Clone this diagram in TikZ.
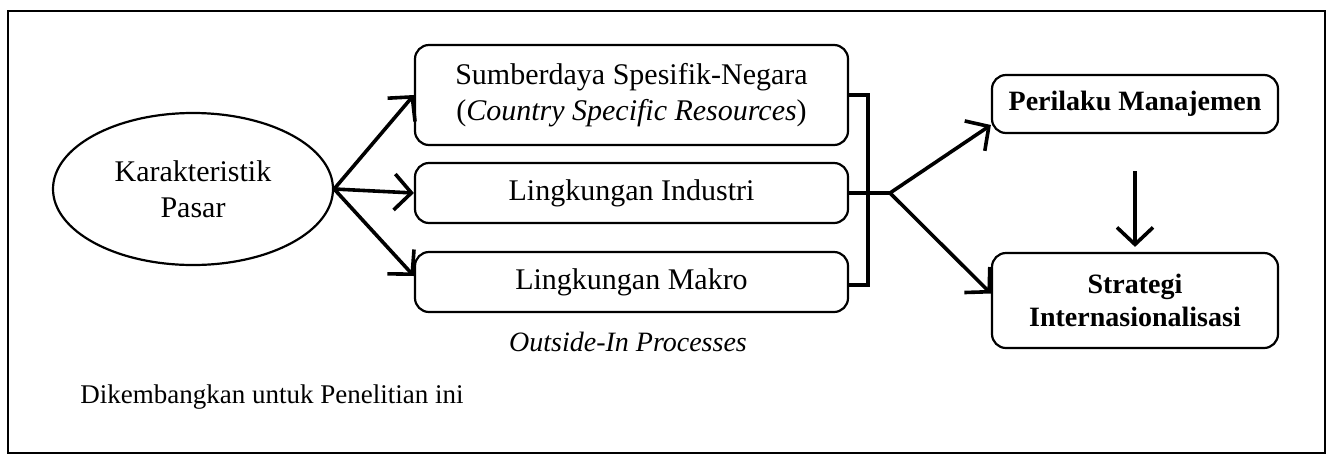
\documentclass[tikz,border=0pt]{standalone}
\usepackage{fontspec}
\setmainfont{Liberation Serif}
\usetikzlibrary{arrows.meta,shapes.geometric}
\begin{document}
\begin{tikzpicture}[x=0.5pt,y=-0.5pt,
  every node/.style={font=\fontsize{15}{18}\selectfont, align=center, inner sep=0pt},
  rbox/.style={draw, line width=1.1pt, rounded corners=7pt, minimum width=216.5pt},
  obox/.style={draw, line width=1.1pt, rounded corners=7pt, minimum width=143pt},
  conn/.style={line width=1.8pt},
  arr/.style={conn, -{Straight Barb[length=8.5pt,width=18pt,line width=1.8pt]}}
]
\useasboundingbox (0,0) rectangle (1328,456);
\draw[line width=1.1pt] (8,11) rectangle (1325,453);

\node[ellipse, draw, line width=1.1pt, minimum width=140pt, minimum height=76pt] (kp) at (193,189) {Karakteristik\\Pasar};

\node[rbox, minimum height=50pt] (sn) at (631.5,95) {Sumberdaya Spesifik-Negara\\(\textit{Country Specific Resources})};
\node[rbox, minimum height=30pt] (li) at (631.5,193) {Lingkungan Industri};
\node[rbox, minimum height=30pt] (lm) at (631.5,282) {Lingkungan Makro};

\node[font=\fontsize{14}{17}\selectfont\itshape] (oi) at (628,342) {Outside-In Processes};
\node[anchor=west, font=\fontsize{13.5}{16}\selectfont] (dk) at (80,397) {Dikembangkan untuk Penelitian ini};

\node[obox, minimum height=29pt, font=\fontsize{14}{17}\selectfont\bfseries] (pm) at (1135,104) {Perilaku Manajemen};
\node[obox, minimum height=47.5pt, font=\fontsize{14}{16.5}\selectfont\bfseries] (st) at (1135,300.5) {Strategi\\Internasionalisasi};

\draw[arr] (kp.east) -- (sn.west);
\draw[arr] (kp.east) -- (li.west);
\draw[arr] (kp.east) -- ([yshift=3pt]lm.west);

\coordinate (br1) at (868,95);
\coordinate (br3) at (868,285);
\coordinate (jn) at (890,193);
\draw[conn] (sn.east |- br1) -- (br1) -- (br3) -- (lm.east |- br3);
\draw[conn] (li.east) -- (jn);

\draw[arr] (jn) -- ([yshift=-10.5pt]pm.west);
\draw[arr] (jn) -- ([yshift=3.5pt]st.west);
\draw[arr] ([yshift=-18.5pt]pm.south) -- ([yshift=2.5pt]st.north);
\end{tikzpicture}
\end{document}
